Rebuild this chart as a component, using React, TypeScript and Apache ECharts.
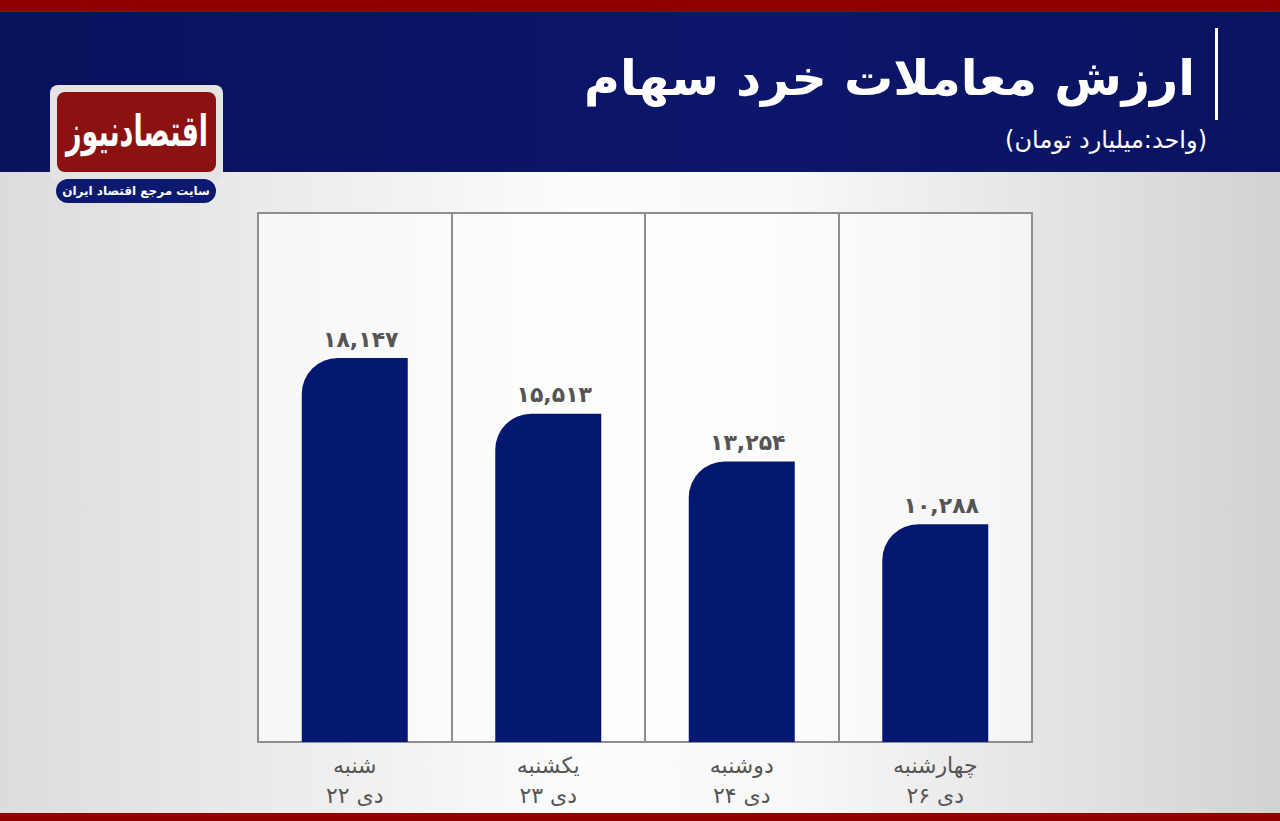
import React, { useEffect, useRef } from "react";
import * as echarts from "echarts";

const dayNames = ["شنبه", "یکشنبه", "دوشنبه", "چهارشنبه"];
const dayDates = ["۲۲ دی", "۲۳ دی", "۲۴ دی", "۲۶ دی"];
const values = [18147, 15513, 13254, 10288];
const titleText = "ارزش معاملات خرد سهام";
const unitText = "(واحد:میلیارد تومان)";
const logoText = "اقتصادنیوز";
const logoSub = "سایت مرجع اقتصاد ایران";

const faDigits = ["۰", "۱", "۲", "۳", "۴", "۵", "۶", "۷", "۸", "۹"];
function toFa(n: number): string {
  const s = n.toString().replace(/\B(?=(\d{3})+(?!\d))/g, ",");
  return s.replace(/\d/g, (d) => faDigits[Number(d)]);
}

const FONT = "'DejaVu Sans', 'Noto Sans', sans-serif";

export default function App() {
  const ref = useRef<HTMLDivElement>(null);
  useEffect(() => {
    document.body.style.margin = "0";
    const chart = echarts.init(ref.current!, undefined, { renderer: "svg" });
    const categories = dayNames.map((d, i) => d + "\n" + dayDates[i]);
    chart.setOption({
      animation: false,
      backgroundColor: new echarts.graphic.LinearGradient(0, 0, 1, 0, [
        { offset: 0, color: "#dcdcdc" },
        { offset: 0.45, color: "#fcfcfc" },
        { offset: 0.62, color: "#f8f8f8" },
        { offset: 1, color: "#d2d2d2" },
      ]),
      grid: {
        left: 258,
        right: 248,
        top: 213,
        bottom: 79,
        show: true,
        borderColor: "#8e8e8e",
        borderWidth: 2,
        backgroundColor: "rgba(255,255,255,0.6)",
      },
      xAxis: {
        type: "category",
        data: categories,
        axisTick: { show: false },
        axisLine: { show: true, lineStyle: { color: "#8e8e8e", width: 2 } },
        splitLine: { show: true, lineStyle: { color: "#8e8e8e", width: 2 } },
        axisLabel: {
          fontSize: 22,
          lineHeight: 30,
          color: "#555555",
          fontFamily: FONT,
          margin: 8,
        },
      },
      yAxis: {
        type: "value",
        min: 0,
        max: 25000,
        show: false,
        splitLine: { show: false },
      },
      series: [
        {
          type: "bar",
          data: values,
          barWidth: 106,
          itemStyle: { color: "#041872", borderRadius: [36, 0, 0, 0] },
          label: {
            show: true,
            position: "top",
            distance: 8,
            offset: [6, 0],
            fontSize: 22,
            fontWeight: "bold",
            color: "#555555",
            fontFamily: FONT,
            formatter: (p: any) => toFa(p.value),
          },
        },
      ],
      graphic: [
        { type: "rect", shape: { x: 0, y: 0, width: 1280, height: 12 }, style: { fill: "#8f0000" } },
        {
          type: "rect",
          shape: { x: 0, y: 12, width: 1280, height: 160 },
          style: {
            fill: new echarts.graphic.LinearGradient(0, 0, 1, 0, [
              { offset: 0, color: "#09125c" },
              { offset: 0.6, color: "#0c166b" },
              { offset: 1, color: "#091360" },
            ]),
          },
        },
        { type: "rect", shape: { x: 0, y: 813, width: 1280, height: 8 }, style: { fill: "#8f0000" } },
        { type: "rect", shape: { x: 1215, y: 28, width: 3, height: 92 }, style: { fill: "#ffffff" } },
        {
          type: "text",
          x: 1195,
          y: 78,
          style: {
            text: titleText,
            fill: "#ffffff",
            font: "bold 49px " + FONT,
            align: "right",
            verticalAlign: "middle",
          },
        },
        {
          type: "text",
          x: 1207,
          y: 140,
          style: {
            text: unitText,
            fill: "#ffffff",
            font: "24px " + FONT,
            align: "right",
            verticalAlign: "middle",
          },
        },
        // logo
        { type: "rect", shape: { x: 50, y: 85, width: 173, height: 95, r: 8 }, style: { fill: "#e4e4e4" } },
        { type: "rect", shape: { x: 57, y: 92, width: 159, height: 80, r: 8 }, style: { fill: "#8c1212" } },
        {
          type: "text",
          x: 137,
          y: 131,
          scaleY: 1.6,
          style: {
            text: logoText,
            fill: "#ffffff",
            font: "bold 27px " + FONT,
            align: "center",
            verticalAlign: "middle",
          },
        },
        { type: "rect", shape: { x: 56, y: 179, width: 160, height: 24, r: 12 }, style: { fill: "#0b1a6f" } },
        {
          type: "text",
          x: 136,
          y: 191,
          style: {
            text: logoSub,
            fill: "#ffffff",
            font: "bold 12px " + FONT,
            align: "center",
            verticalAlign: "middle",
          },
        },
      ],
    });
    return () => chart.dispose();
  }, []);
  return <div ref={ref} style={{ width: 1280, height: 821 }} />;
}
